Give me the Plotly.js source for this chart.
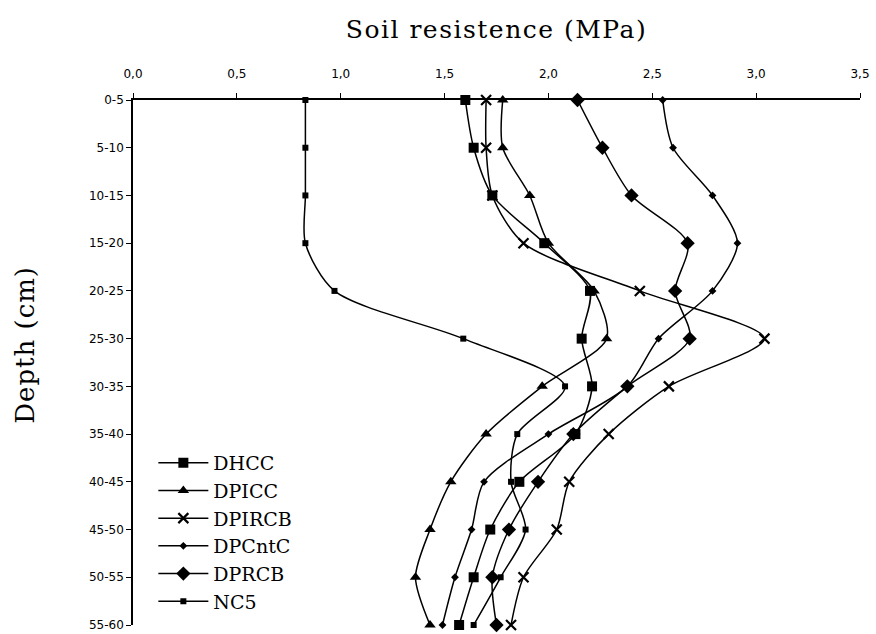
<!DOCTYPE html>
<html>
<head>
<meta charset="utf-8">
<script src="https://cdn.plot.ly/plotly-3.0.1.min.js"></script>
<style>html,body{margin:0;padding:0;background:#fff;}#chart{width:876px;height:634px;}
.xtitle{letter-spacing:1.5px;} .annotation-text{letter-spacing:1px;}</style>
</head>
<body>
<div id="chart"></div>
<script>
const depths = ["0-5","5-10","10-15","15-20","20-25","25-30","30-35","35-40","40-45","45-50","50-55","55-60"];
const DHCC   = [1.60,1.64,1.73,1.98,2.20,2.16,2.21,2.13,1.86,1.72,1.64,1.57];
const DPICC  = [1.78,1.78,1.91,2.00,2.22,2.28,1.97,1.70,1.53,1.43,1.36,1.43];
const DPIRCB = [1.70,1.70,1.73,1.88,2.44,3.04,2.58,2.29,2.10,2.04,1.88,1.82];
const DPCntC = [2.55,2.60,2.79,2.91,2.79,2.53,2.38,2.00,1.69,1.63,1.55,1.49];
const DPRCB  = [2.14,2.26,2.40,2.67,2.61,2.68,2.38,2.12,1.95,1.81,1.73,1.75];
const NC5    = [0.83,0.83,0.83,0.83,0.97,1.59,2.08,1.85,1.82,1.89,1.77,1.64];
const xTicks = [0,0.5,1,1.5,2,2.5,3,3.5];

const seriesList = [
  {name:"DHCC", x:DHCC, marker:{symbol:"square", size:10}},
  {name:"DPICC", x:DPICC, marker:{symbol:"triangle-up", size:10}},
  {name:"DPIRCB", x:DPIRCB, marker:{symbol:"x-thin", size:10, line:{width:2.2,color:"#000"}}},
  {name:"DPCntC", x:DPCntC, marker:{symbol:"diamond", size:6}},
  {name:"DPRCB", x:DPRCB, marker:{symbol:"diamond", size:11}},
  {name:"NC5", x:NC5, marker:{symbol:"square", size:6}}
];
const yIdx = depths.map((d,i)=>i);
const traces = seriesList.map(s => ({
  type:"scatter", mode:"lines+markers", name:s.name,
  x:s.x, y:yIdx,
  line:{color:"#000", width:1.5, shape:"spline", smoothing:0.8},
  marker:Object.assign({color:"#000"}, s.marker),
  cliponaxis:false
}));

const layout = {
  width:876, height:634,
  margin:{l:133, r:16, t:100, b:9},
  paper_bgcolor:"#fff", plot_bgcolor:"#fff",
  separators:",.",
  showlegend:true,
  legend:{x:0.028, y:0.345, xanchor:"left", yanchor:"top", bgcolor:"rgba(0,0,0,0)",
    font:{family:"DejaVu Serif, serif", size:19, color:"#000"}, tracegroupgap:0, itemwidth:50},
  xaxis:{
    side:"top", range:[0,3.5], tickvals:xTicks, tickformat:".1f",
    showgrid:false, zeroline:false, showline:true, linecolor:"#000", linewidth:1.5,
    ticks:"outside", ticklen:5, tickcolor:"#000", tickwidth:1.2, ticklabelstandoff:10,
    tickfont:{family:"DejaVu Sans, sans-serif", size:12, color:"#000"},
    title:{text:"Soil resistence (MPa)", standoff:22, font:{family:"DejaVu Serif, serif", size:25, color:"#000"}}
  },
  yaxis:{
    range:[11,0], tickvals:yIdx, ticktext:depths,
    showgrid:false, zeroline:false, showline:true, linecolor:"#000", linewidth:1.5,
    ticks:"outside", ticklen:5, tickcolor:"#000", tickwidth:1.2,
    tickfont:{family:"DejaVu Sans, sans-serif", size:12, color:"#000"}
  },
  annotations:[{
    text:"Depth (cm)", xref:"paper", yref:"paper", x:-0.149, y:0.533,
    xanchor:"center", yanchor:"middle", textangle:-90, showarrow:false,
    font:{family:"DejaVu Serif, serif", size:26, color:"#000"}
  }]
};
Plotly.newPlot("chart", traces, layout, {displayModeBar:false});
</script>
</body>
</html>
